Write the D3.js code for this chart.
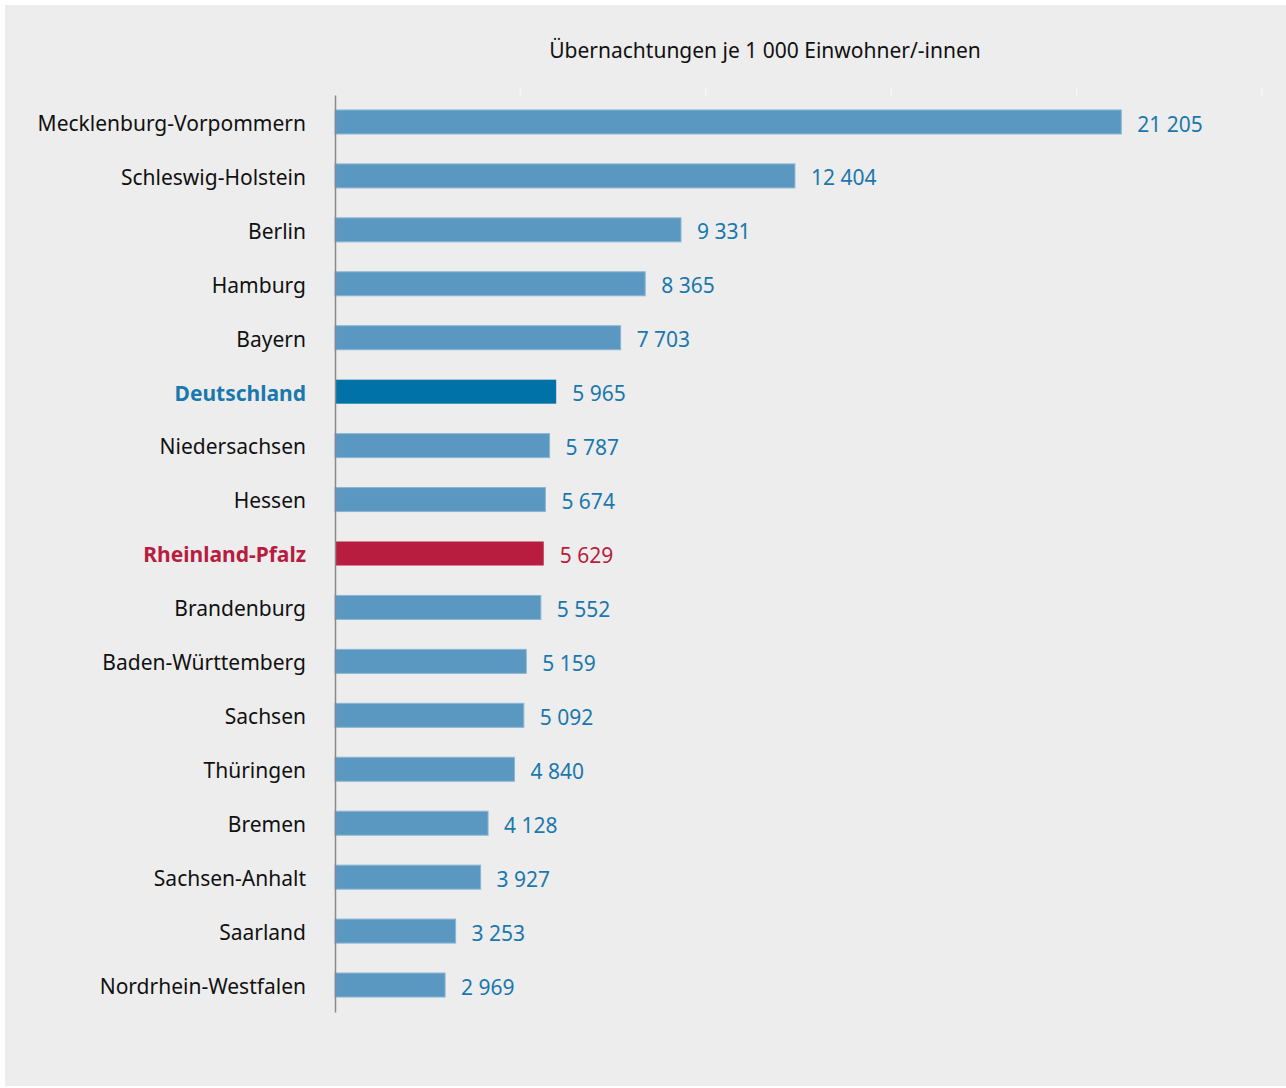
<!DOCTYPE html>
<html lang="de">
<head>
    <meta charset="UTF-8">
    <title>Übernachtungen je 1 000 Einwohner/-innen</title>
    <script src="https://d3js.org/d3.v7.min.js"></script>
    <style>
        body { margin: 0; background: #fff; }
        svg { display: block; font-family: "Noto Sans", sans-serif; }
    </style>
</head>
<body>
    <script>
        // Daten
        const laender = ["Mecklenburg-Vorpommern", "Schleswig-Holstein", "Berlin", "Hamburg", "Bayern",
            "Deutschland", "Niedersachsen", "Hessen", "Rheinland-Pfalz", "Brandenburg",
            "Baden-Württemberg", "Sachsen", "Thüringen", "Bremen", "Sachsen-Anhalt",
            "Saarland", "Nordrhein-Westfalen"];
        const werte = [21205, 12404, 9331, 8365, 7703, 5965, 5787, 5674, 5629, 5552,
            5159, 5092, 4840, 4128, 3927, 3253, 2969];
        const gridTicks = [5000, 10000, 15000, 20000, 25000];
        const titel = "Übernachtungen je 1 000 Einwohner/-innen";

        const w = 1286, h = 1088;
        const pLeft = 335, pRight = 1262, pTop = 95, pBottom = 1012;

        const fmt = d3.formatLocale({ decimal: ",", thousands: " ", grouping: [3], currency: ["", "€"] }).format(",d");

        const farbe = (name) => {
            if (name === "Deutschland") return "#0072a8";
            if (name === "Rheinland-Pfalz") return "#b81d3f";
            return "#5b98c1";
        };
        const textFarbe = (name) => name === "Rheinland-Pfalz" ? "#b81d3f" : "#1a78ad";

        const svg = d3.select("body").append("svg")
            .attr("width", w)
            .attr("height", h);

        // Hintergrund
        svg.append("rect")
            .attr("x", 5).attr("y", 5)
            .attr("width", w - 5).attr("height", h - 7)
            .attr("fill", "#ededed");

        const x = d3.scaleLinear().domain([0, 25000]).range([pLeft, pRight]);
        const y = d3.scaleBand().domain(laender).range([pTop, pBottom])
            .paddingInner(0.555).paddingOuter(0.2775);

        // kleine Gitter-Markierungen oben
        svg.selectAll("line.grid")
            .data(gridTicks)
            .enter()
            .append("line")
            .attr("class", "grid")
            .attr("x1", d => x(d)).attr("x2", d => x(d))
            .attr("y1", 88).attr("y2", 96)
            .attr("stroke", "#f6f6f6")
            .attr("stroke-width", 1.5);

        // Titel
        svg.append("text")
            .attr("x", 765)
            .attr("y", 58)
            .attr("text-anchor", "middle")
            .style("font-size", "21px")
            .attr("fill", "#111")
            .text(titel);

        // Balken
        svg.selectAll("rect.bar")
            .data(laender)
            .enter()
            .append("rect")
            .attr("class", "bar")
            .attr("x", x(0))
            .attr("y", d => y(d))
            .attr("width", (d, i) => x(werte[i]) - x(0))
            .attr("height", y.bandwidth())
            .attr("fill", d => farbe(d))
            .attr("stroke", d => (d === "Deutschland" || d === "Rheinland-Pfalz") ? "none" : "#8ab6d6")
            .attr("stroke-width", 1);

        // Werte
        svg.selectAll("text.wert")
            .data(laender)
            .enter()
            .append("text")
            .attr("class", "wert")
            .attr("x", (d, i) => x(werte[i]) + 16)
            .attr("y", d => y(d) + y.bandwidth() / 2 + 2)
            .attr("dy", "0.36em")
            .style("font-size", "21px")
            .attr("fill", d => textFarbe(d))
            .text((d, i) => fmt(werte[i]));

        // Achse links
        const yAxis = d3.axisLeft(y).tickSize(0).tickPadding(29);
        const gAxis = svg.append("g")
            .attr("transform", `translate(${pLeft},0)`)
            .call(yAxis);
        gAxis.select(".domain").attr("stroke", "#8a8a8a").attr("stroke-width", 1.5);
        gAxis.selectAll(".tick text")
            .attr("dy", "0.42em")
            .style("font-family", "'Noto Sans', sans-serif")
            .style("font-size", "21px")
            .attr("fill", d => d === "Deutschland" ? "#1a78ad" : (d === "Rheinland-Pfalz" ? "#b81d3f" : "#111"))
            .style("font-weight", d => (d === "Deutschland" || d === "Rheinland-Pfalz") ? "bold" : "normal");
    </script>
</body>
</html>
